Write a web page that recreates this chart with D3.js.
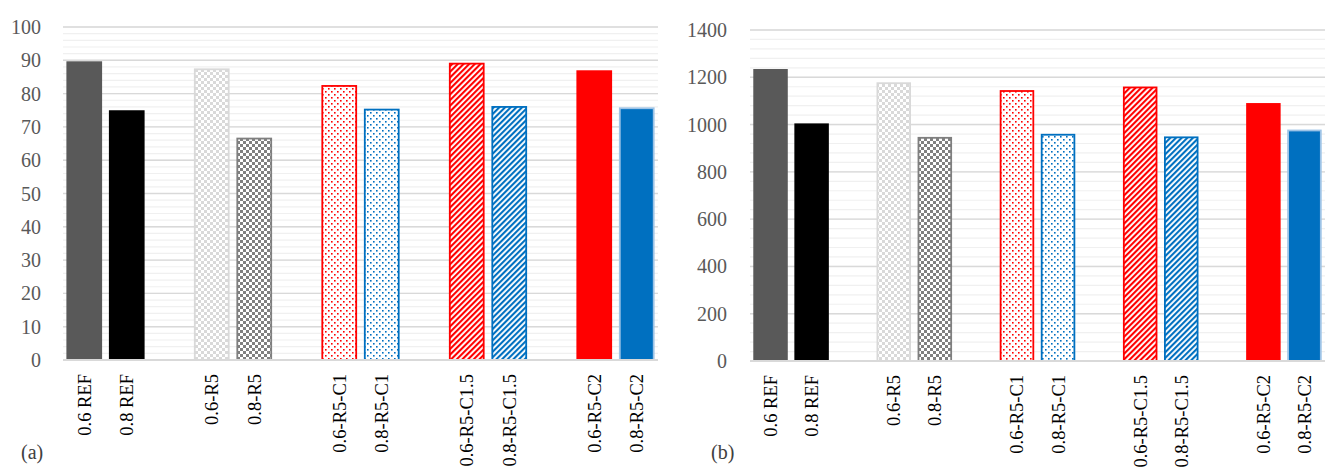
<!DOCTYPE html>
<html>
<head>
<meta charset="utf-8">
<script src="https://cdn.jsdelivr.net/npm/d3@7.9.0/dist/d3.min.js"></script>
<style>
  html, body { margin: 0; padding: 0; background: #fff; }
  svg { display: block; font-family: 'Liberation Serif', 'DejaVu Serif', serif; }
</style>
</head>
<body>
<svg id="chart" width="1328" height="468"></svg>
<script>
// specimens, in order; a blank slot sits between each pair
const specimens = ['0.6 REF', '0.8 REF', '0.6-R5', '0.8-R5', '0.6-R5-C1', '0.8-R5-C1',
  '0.6-R5-C1.5', '0.8-R5-C1.5', '0.6-R5-C2', '0.8-R5-C2'];
const valuesA = [89.7, 75.0, 87.3, 66.5, 82.3, 75.2, 89.0, 76.0, 87.0, 75.6];
const valuesB = [1235, 1005, 1175, 944, 1142, 957, 1157, 946, 1091, 975];
const ticksA = [0, 10, 20, 30, 40, 50, 60, 70, 80, 90, 100];
const ticksB = [0, 200, 400, 600, 800, 1000, 1200, 1400];
const fills = ['#595959', '#000000', 'url(#checkLight)', 'url(#checkDark)', 'url(#dotsRed)',
  'url(#dotsBlue)', 'url(#stripeRed)', 'url(#stripeBlue)', '#ff0000', '#0070c0'];
const strokes = ['none', 'none', '#d9d9d9', '#7f7f7f', '#ff0000', '#0070c0',
  '#ff0000', '#0070c0', 'none', '#9dc3e6'];

const svg = d3.select('#chart');
const defs = svg.append('defs');

function checker(id, color) {
  const p = defs.append('pattern').attr('id', id).attr('patternUnits', 'userSpaceOnUse')
    .attr('width', 6).attr('height', 6);
  p.append('rect').attr('width', 6).attr('height', 6).attr('fill', '#fff');
  p.append('rect').attr('width', 3).attr('height', 3).attr('fill', color);
  p.append('rect').attr('x', 3).attr('y', 3).attr('width', 3).attr('height', 3).attr('fill', color);
}
function dots(id, color) {
  const p = defs.append('pattern').attr('id', id).attr('patternUnits', 'userSpaceOnUse')
    .attr('width', 6).attr('height', 6);
  p.append('rect').attr('width', 6).attr('height', 6).attr('fill', '#fff');
  p.append('rect').attr('x', 1).attr('y', 1).attr('width', 1.6).attr('height', 1.6).attr('fill', color);
  p.append('rect').attr('x', 4).attr('y', 4).attr('width', 1.6).attr('height', 1.6).attr('fill', color);
}
function stripes(id, color) {
  const p = defs.append('pattern').attr('id', id).attr('patternUnits', 'userSpaceOnUse')
    .attr('width', 4).attr('height', 4).attr('patternTransform', 'rotate(45)');
  p.append('rect').attr('width', 4).attr('height', 4).attr('fill', '#fff');
  p.append('rect').attr('width', 2.1).attr('height', 4).attr('fill', color);
}
checker('checkLight', '#d9d9d9');
checker('checkDark', '#808080');
dots('dotsRed', '#ff0000');
dots('dotsBlue', '#0070c0');
stripes('stripeRed', '#ff0000');
stripes('stripeBlue', '#0070c0');

// band domain with gap slots between the pairs
const slots = [];
specimens.forEach((s, i) => {
  slots.push(s);
  if (i % 2 === 1 && i < specimens.length - 1) slots.push('gap' + i);
});

function panel(opts) {
  const { x0, x1, yBase, yTop, max, ticks, minorStep, values, labelRight, tag, tagX } = opts;
  const g = svg.append('g');
  const x = d3.scaleBand().domain(slots).range([x0, x1]).paddingInner(0.16).paddingOuter(0.08);
  const y = d3.scaleLinear().domain([0, max]).range([yBase, yTop]);

  // minor grid
  g.append('g').selectAll('line').data(d3.range(0, max + 0.001, minorStep))
    .join('line')
    .attr('x1', x0).attr('x2', x1)
    .attr('y1', (d) => y(d)).attr('y2', (d) => y(d))
    .attr('stroke', '#f0f0f0').attr('stroke-width', 1.2);

  // major grid
  g.append('g').selectAll('line').data(ticks.slice(1))
    .join('line')
    .attr('x1', x0).attr('x2', x1)
    .attr('y1', (d) => y(d)).attr('y2', (d) => y(d))
    .attr('stroke', '#d9d9d9').attr('stroke-width', 1.4);

  // y tick labels
  g.append('g').selectAll('text').data(ticks)
    .join('text')
    .attr('x', labelRight).attr('y', (d) => y(d))
    .attr('dy', '0.35em')
    .attr('text-anchor', 'end')
    .attr('font-size', 20)
    .attr('fill', '#595959')
    .text((d) => d);

  // bars
  g.append('g').selectAll('rect').data(specimens)
    .join('rect')
    .attr('x', (d) => x(d) + (strokes[specimens.indexOf(d)] === 'none' ? 0 : 0.9))
    .attr('y', (d, i) => y(values[i]))
    .attr('width', (d, i) => x.bandwidth() - (strokes[i] === 'none' ? 0 : 1.8))
    .attr('height', (d, i) => y(0) - y(values[i]))
    .attr('fill', (d, i) => fills[i])
    .attr('stroke', (d, i) => strokes[i])
    .attr('stroke-width', 1.8);

  // baseline
  g.append('line')
    .attr('x1', x0).attr('x2', x1)
    .attr('y1', y(0)).attr('y2', y(0))
    .attr('stroke', '#d9d9d9').attr('stroke-width', 2);

  // category labels, rotated
  g.append('g').selectAll('text').data(specimens)
    .join('text')
    .attr('transform', (d) => `translate(${x(d) + x.bandwidth() / 2},${y(0) + 14}) rotate(-90)`)
    .attr('dy', '0.35em')
    .attr('text-anchor', 'end')
    .attr('font-size', 18.5)
    .attr('fill', '#000')
    .text((d) => d);

  g.append('text')
    .attr('x', tagX).attr('y', 459)
    .attr('font-size', 20)
    .attr('fill', '#404040')
    .text(tag);
}

panel({ x0: 63, x1: 658, yBase: 360, yTop: 27, max: 100, ticks: ticksA, minorStep: 2,
  values: valuesA, labelRight: 41, tag: '(a)', tagX: 21 });
panel({ x0: 750, x1: 1325, yBase: 361, yTop: 30, max: 1400, ticks: ticksB, minorStep: 40,
  values: valuesB, labelRight: 727, tag: '(b)', tagX: 711 });
</script>
</body>
</html>
